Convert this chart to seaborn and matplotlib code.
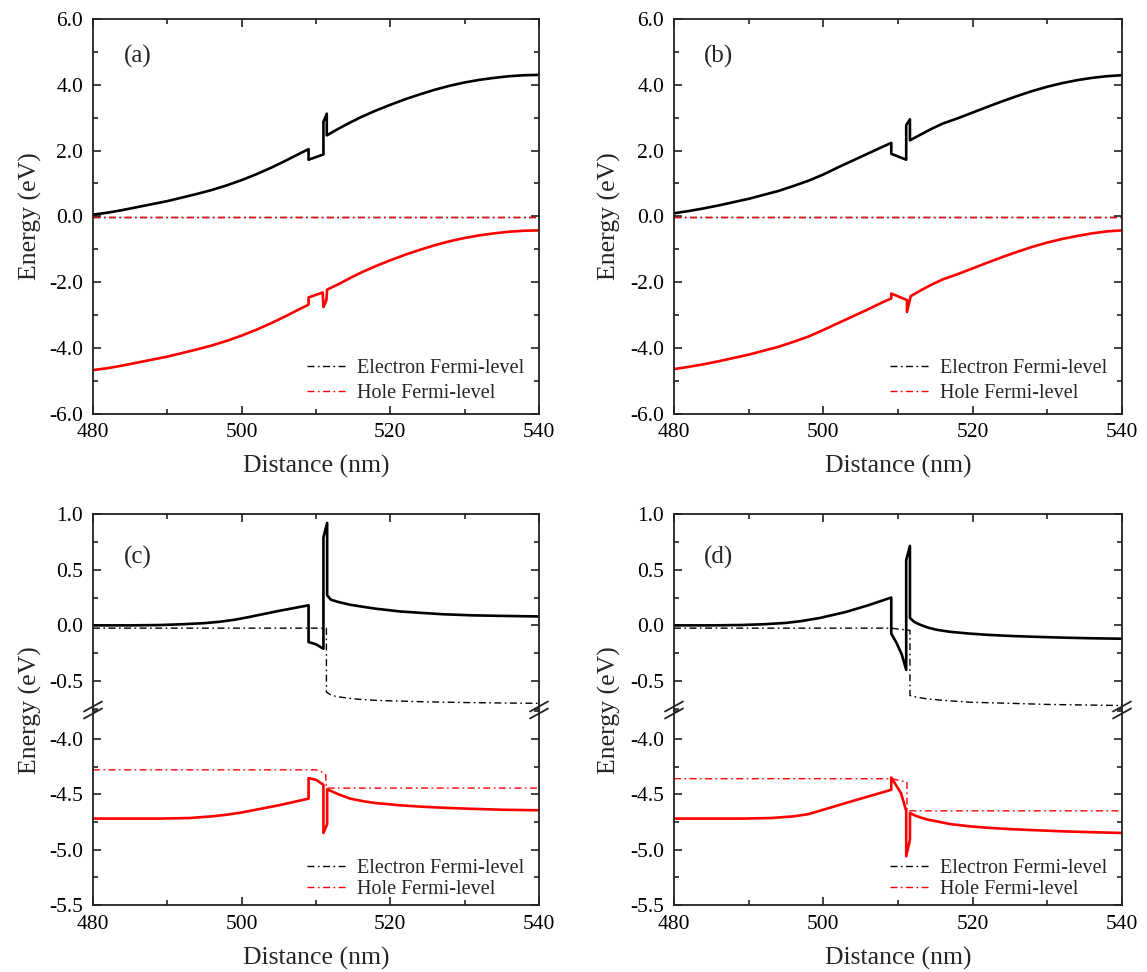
import matplotlib
matplotlib.use("Agg")
import matplotlib.pyplot as plt
import seaborn as sns
from matplotlib.ticker import MultipleLocator, FormatStrFormatter
from matplotlib.lines import Line2D

# ---------------- data ----------------
# Panel (a)
a_x_cb = [480, 482, 484, 486, 488, 490, 492, 494, 496, 498, 500, 502, 504, 506, 508, 509,
          509, 511, 511, 511.45, 511.45,
          513, 514.5, 516, 518, 520, 522, 524, 526, 528, 530, 532, 534, 536, 538, 540]
a_cb = [0.05, 0.11, 0.19, 0.28, 0.37, 0.46, 0.57, 0.68, 0.80, 0.94, 1.10, 1.28, 1.48, 1.70, 1.93, 2.04,
        1.72, 1.88, 2.87, 3.12, 2.46,
        2.66, 2.84, 3.01, 3.21, 3.39, 3.56, 3.71, 3.85, 3.97, 4.07, 4.15, 4.21, 4.26, 4.29, 4.30]
a_x_vb = [480, 482, 484, 486, 488, 490, 492, 494, 496, 498, 500, 502, 504, 506, 508, 509,
          509, 510.9, 511.0, 511.4, 511.5,
          513, 514.5, 516, 518, 520, 522, 524, 526, 528, 530, 532, 534, 536, 538, 540]
a_vb = [-4.68, -4.62, -4.54, -4.45, -4.36, -4.27, -4.16, -4.05, -3.93, -3.79, -3.63, -3.45, -3.25, -3.03, -2.80, -2.69,
        -2.47, -2.32, -2.76, -2.55, -2.23,
        -2.07, -1.89, -1.72, -1.52, -1.34, -1.17, -1.02, -0.88, -0.76, -0.66, -0.58, -0.52, -0.47, -0.44, -0.43]
a_x_fn = [480, 540]
a_fn = [-0.03, -0.03]
a_x_fp = [480, 540]
a_fp = [-0.03, -0.03]

# Panel (b)
b_x_cb = [480, 482, 484, 486, 488, 490, 492, 494, 496, 498, 500, 502, 504, 506, 508, 509.1,
          509.1, 511.1, 511.1, 511.6, 511.6,
          513, 514.5, 516, 518, 519.6, 522, 524, 526, 528, 530, 532, 534, 536, 538, 540]
b_cb = [0.09, 0.16, 0.24, 0.33, 0.43, 0.53, 0.65, 0.77, 0.92, 1.08, 1.27, 1.49, 1.70, 1.91, 2.12, 2.23,
        1.90, 1.72, 2.77, 2.95, 2.31,
        2.48, 2.66, 2.82, 2.98, 3.12, 3.33, 3.50, 3.66, 3.81, 3.94, 4.05, 4.14, 4.21, 4.26, 4.29]
b_x_vb = [480, 482, 484, 486, 488, 490, 492, 494, 496, 498, 500, 502, 504, 506, 508, 509.1,
          509.1, 511.2, 511.2, 511.7,
          513, 514.5, 516, 518, 519.6, 522, 524, 526, 528, 530, 532, 534, 536, 538, 540]
b_vb = [-4.65, -4.58, -4.50, -4.41, -4.31, -4.21, -4.09, -3.97, -3.82, -3.66, -3.46, -3.25, -3.04, -2.83, -2.61, -2.50,
        -2.35, -2.55, -2.91, -2.43,
        -2.26, -2.08, -1.92, -1.76, -1.62, -1.41, -1.24, -1.08, -0.93, -0.80, -0.69, -0.60, -0.52, -0.46, -0.43]
b_x_fn = [480, 540]
b_fn = [-0.03, -0.03]
b_x_fp = [480, 540]
b_fp = [-0.03, -0.03]

# Panel (c)
c_x_cb = [480, 485, 489, 492, 495, 497, 499, 501, 505, 509,
          509, 510, 511, 511, 511.5, 511.5,
          512, 513, 514.6, 516.5, 518, 521.3, 524, 527, 531, 535, 540]
c_cb = [0.0, 0.0, 0.003, 0.01, 0.02, 0.032, 0.05, 0.075, 0.13, 0.18,
        -0.15, -0.17, -0.21, 0.79, 0.92, 0.27,
        0.23, 0.21, 0.185, 0.165, 0.15, 0.125, 0.113, 0.10, 0.09, 0.085, 0.08]
c_x_vb = [480, 489, 493, 496, 498, 500, 505, 509,
          509, 510, 511, 511, 511.5, 511.5,
          512, 513, 514.6, 516.5, 518, 521.3, 524, 527, 531, 535, 540]
c_vb = [-4.72, -4.72, -4.715, -4.70, -4.685, -4.665, -4.60, -4.54,
        -4.355, -4.37, -4.415, -4.85, -4.77, -4.456,
        -4.47, -4.50, -4.54, -4.565, -4.58, -4.60, -4.612, -4.622, -4.632, -4.64, -4.645]
c_x_fn = [480, 511.4, 511.4, 512, 512.8, 514.5, 516, 518.5, 521.3, 525, 530, 535, 540]
c_fn = [-0.025, -0.025, -0.60, -0.625, -0.64, -0.655, -0.665, -0.675, -0.68, -0.687, -0.693, -0.697, -0.70]
c_x_fp = [480, 510.0, 510.8, 511.3, 511.4, 540]
c_fp = [-4.28, -4.28, -4.30, -4.32, -4.445, -4.445]

# Panel (d)
d_x_cb = [480, 485, 489, 492, 495, 497, 499.5, 503, 506, 509.1,
          509.1, 509.8, 510.5, 511.1, 511.1, 511.6, 511.6,
          512.2, 513, 514, 515.2, 517, 519.6, 522, 525, 528, 532, 536, 540]
d_cb = [0.0, 0.0, 0.003, 0.01, 0.022, 0.038, 0.066, 0.12, 0.18, 0.25,
        -0.074, -0.157, -0.26, -0.40, 0.587, 0.714, 0.066,
        0.03, 0.005, -0.02, -0.04, -0.058, -0.074, -0.085, -0.095, -0.102, -0.11, -0.116, -0.12]
d_x_vb = [480, 489, 493, 496, 498, 499.5, 504, 509.1,
          509.1, 510.4, 511.1, 511.1, 511.6, 511.6,
          512.2, 513, 514, 515.2, 517, 519.6, 522, 525, 528, 532, 536, 540]
d_vb = [-4.72, -4.72, -4.715, -4.70, -4.68, -4.65, -4.56, -4.46,
        -4.35, -4.49, -4.65, -5.06, -4.91, -4.67,
        -4.69, -4.71, -4.73, -4.745, -4.77, -4.79, -4.803, -4.815, -4.824, -4.835, -4.843, -4.85]
d_x_fn = [480, 509, 511.6, 511.6, 512.5, 513.9, 516, 519.6, 525, 530, 535, 540]
d_fn = [-0.025, -0.025, -0.045, -0.63, -0.645, -0.66, -0.673, -0.69, -0.70, -0.71, -0.715, -0.72]
d_x_fp = [480, 509.1, 510.9, 511.2, 511.2, 540]
d_fp = [-4.36, -4.36, -4.386, -4.39, -4.65, -4.65]

panel_labels = ["(a)", "(b)", "(c)", "(d)"]
legend_labels = ["Electron Fermi-level", "Hole Fermi-level"]
x_label = "Distance (nm)"
y_label = "Energy (eV)"

# ---------------- style ----------------
sns.set_style("ticks")
plt.rcParams['font.family'] = ['Liberation Serif', 'DejaVu Serif']
plt.rcParams['axes.unicode_minus'] = False
plt.rcParams['axes.linewidth'] = 1.3
plt.rcParams['axes.edgecolor'] = '#222222'

W, H = 1147, 972
fig = plt.figure(figsize=(W / 100, H / 100), dpi=100)


def box(l, r, t, b):
    return [l / W, 1 - b / H, (r - l) / W, (b - t) / H]


DD = (0, (5, 2.5, 1.2, 2.5))
TICKFS = 15.5
LW = 1.9


def style(ax, top=True, bottom=True):
    ax.tick_params(which='both', direction='in', right=True, top=top, bottom=bottom,
                   labelsize=TICKFS, width=1.2, colors='#222222', labelcolor='black', pad=7)
    ax.tick_params(which='major', length=6)
    ax.tick_params(which='minor', length=3.5)
    ax.set_xlim(480, 540)
    ax.xaxis.set_major_locator(MultipleLocator(20))
    ax.xaxis.set_minor_locator(MultipleLocator(10))
    ax.yaxis.set_major_formatter(FormatStrFormatter('%.1f'))
    ax.set_xlabel("")
    ax.set_ylabel("")


def line(ax, x, y, color, ls='-', lw=LW):
    sns.lineplot(x=x, y=y, ax=ax, color=color, linestyle=ls, linewidth=lw,
                 sort=False, estimator=None, legend=False)


def leg(ax, axw, axh, dx, dy, spacing):
    handles = [Line2D([], [], color='black', linestyle=DD, lw=1.0),
               Line2D([], [], color='red', linestyle=DD, lw=1.0)]
    ax.legend(handles, legend_labels, loc='lower right', frameon=False, fontsize=14.5,
              handlelength=2.0, handletextpad=0.45, labelspacing=spacing,
              borderaxespad=0, bbox_to_anchor=(1 - dx / axw, dy / axh))


# ---- top panels ----
tops = [
    (93, 539, a_x_cb, a_cb, a_x_vb, a_vb, a_x_fn, a_fn, a_x_fp, a_fp, 30, 316),
    (674, 1122, b_x_cb, b_cb, b_x_vb, b_vb, b_x_fn, b_fn, b_x_fp, b_fp, 609, 898),
]
for i, (l, r, xcb, cb, xvb, vb, xfn, fn, xfp, fp, ylx, xlx) in enumerate(tops):
    ax = fig.add_axes(box(l, r, 19, 413.5))
    line(ax, xcb, cb, 'black')
    line(ax, xvb, vb, 'red')
    line(ax, xfn, fn, 'black', DD, 1.0)
    line(ax, xfp, fp, 'red', DD, 1.0)
    style(ax)
    ax.set_ylim(-6, 6)
    ax.yaxis.set_major_locator(MultipleLocator(2))
    ax.yaxis.set_minor_locator(MultipleLocator(1))
    ax.text(0.1, 0.905, panel_labels[i], transform=ax.transAxes, fontsize=18,
            ha='center', va='center')
    leg(ax, r - l, 394.5, 7, 2.5, 0.3)
    fig.text(ylx / W, 1 - 216 / H, y_label, rotation=90, ha='center', va='center', fontsize=18.5)
    fig.text(xlx / W, 1 - 466 / H, x_label, ha='center', va='center', fontsize=18.5)

# ---- bottom panels (broken axis) ----
bots = [
    (93, 539, c_x_cb, c_cb, c_x_vb, c_vb, c_x_fn, c_fn, c_x_fp, c_fp, 30, 316),
    (674, 1122, d_x_cb, d_cb, d_x_vb, d_vb, d_x_fn, d_fn, d_x_fp, d_fp, 609, 898),
]
BRK = 710
for i, (l, r, xcb, cb, xvb, vb, xfn, fn, xfp, fp, ylx, xlx) in enumerate(bots):
    axt = fig.add_axes(box(l, r, 514, BRK))
    axb = fig.add_axes(box(l, r, BRK, 905))
    line(axt, xcb, cb, 'black')
    line(axt, xfn, fn, 'black', DD, 1.0)
    line(axb, xvb, vb, 'red')
    line(axb, xfp, fp, 'red', DD, 1.0)
    style(axt, top=True, bottom=False)
    style(axb, top=False, bottom=True)
    axt.set_ylim(-0.76, 1.0)
    axb.set_ylim(-5.5, -3.74)
    for a in (axt, axb):
        a.yaxis.set_major_locator(MultipleLocator(0.5))
        a.yaxis.set_minor_locator(MultipleLocator(0.25))
    axt.spines['bottom'].set_visible(False)
    axb.spines['top'].set_visible(False)
    axt.tick_params(labelbottom=False)
    axt.text(0.1, 0.78, panel_labels[i + 2], transform=axt.transAxes, fontsize=18,
             ha='center', va='center')
    leg(axb, r - l, 195, 7, -2, 0.1)
    # break marks on both spines
    for xs in (l, r):
        for dy in (-3.5, 3.5):
            x0, x1 = xs - 9, xs + 9
            y0, y1 = BRK + dy + 5, BRK + dy - 5
            fig.add_artist(Line2D([x0 / W, x1 / W], [1 - y0 / H, 1 - y1 / H],
                                  transform=fig.transFigure, color='#222222', lw=1.3))
    fig.text(ylx / W, 1 - BRK / H, y_label, rotation=90, ha='center', va='center', fontsize=18.5)
    fig.text(xlx / W, 1 - 958 / H, x_label, ha='center', va='center', fontsize=18.5)

fig.savefig("out.png", dpi=100)
